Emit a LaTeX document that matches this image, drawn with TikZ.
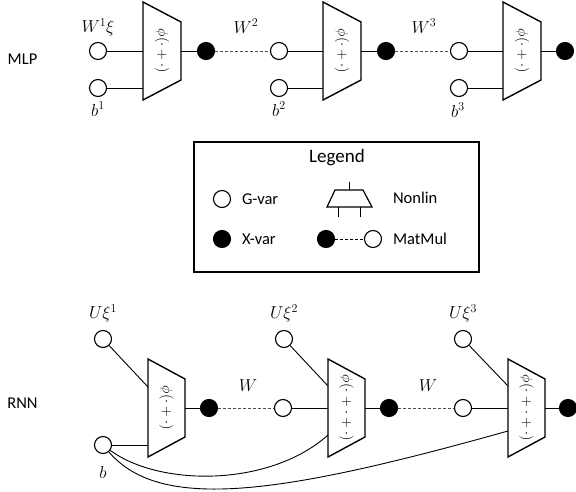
\documentclass[tikz,border=0pt]{standalone}
\usepackage{fontspec}
\setmainfont{Carlito}
\begin{document}
\begin{tikzpicture}[x=1pt,y=-1pt,
  gvar/.style={circle,draw,fill=white,line width=1.1pt,minimum size=17pt,inner sep=0pt},
  xvar/.style={gvar,fill=black},
  conn/.style={line width=0.9pt},
  mm/.style={line width=0.9pt,dash pattern=on 3pt off 2pt,black!70},
  trapbox/.style={line width=1.4pt,fill=white,line join=miter},
  lbl/.style={font=\fontsize{16.5}{18}\selectfont},
  mlbl/.style={font=\fontsize{17}{19}\selectfont,inner sep=0pt},
  fun/.style={rotate=-90,font=\fontsize{15}{17}\selectfont,inner sep=0pt}]
\useasboundingbox (0,0) rectangle (576,492);
\newcommand\mytrap[5]{%
  \draw[trapbox] (#2,#4-49) -- (#3,#4-29) -- (#3,#4+29) -- (#2,#4+49) -- cycle;
  \node[fun] (#1) at ({(#2+#3)/2},#4) {$#5$};
  \coordinate (#1-out) at (#3,#4);
}
% ---------------- MLP ----------------
\node[lbl] (mlp) at (22.5,59) {MLP};
\mytrap{mt1}{143}{181}{51}{\phi(\cdot+\cdot)}
\mytrap{mt2}{323}{361}{51}{\phi(\cdot+\cdot)}
\mytrap{mt3}{503}{541}{51}{\phi(\cdot+\cdot)}
\coordinate (mt1a) at (143,51); \coordinate (mt1b) at (143,88);
\coordinate (mt2a) at (323,51); \coordinate (mt2b) at (323,88);
\coordinate (mt3a) at (503,51); \coordinate (mt3b) at (503,88);

\node[gvar] (mw1) at (98,51) {};
\node[gvar] (mb1) at (98,88) {};
\node[xvar] (mx1) at (206,51) {};
\node[gvar] (mw2) at (279,51) {};
\node[gvar] (mb2) at (279,88) {};
\node[xvar] (mx2) at (386,51) {};
\node[gvar] (mw3) at (459,51) {};
\node[gvar] (mb3) at (459,88) {};
\node[xvar] (mx3) at (565,51) {};

\node[mlbl] (lw1) at (98,27) {$W^1\xi$};
\node[mlbl] (lb1) at (98,109) {$b^1$};
\node[mlbl] (lw2) at (246,26) {$W^2$};
\node[mlbl] (lb2) at (279,109) {$b^2$};
\node[mlbl] (lw3) at (424,26) {$W^3$};
\node[mlbl] (lb3) at (458,110) {$b^3$};

\draw[conn] (mw1) -- (mt1a);
\draw[conn] (mb1) -- (mt1b);
\draw[conn] (mt1-out) -- (mx1);
\draw[mm] (mx1) -- (mw2);
\draw[conn] (mw2) -- (mt2a);
\draw[conn] (mb2) -- (mt2b);
\draw[conn] (mt2-out) -- (mx2);
\draw[mm] (mx2) -- (mw3);
\draw[conn] (mw3) -- (mt3a);
\draw[conn] (mb3) -- (mt3b);
\draw[conn] (mt3-out) -- (mx3);

% ---------------- Legend ----------------
\node[draw,line width=1.2pt,minimum width=285pt,minimum height=130pt,inner sep=0pt] (legend) at (336.5,207) {};
\node[lbl,font=\fontsize{19}{21}\selectfont] (legtitle) at (337,158) {Legend};
\node[gvar] (lg) at (222,199) {};
\node[lbl,anchor=west] (lgt) at (238.5,199) {G-var};
\node[xvar] (lx) at (222,239) {};
\node[lbl,anchor=west] (lxt) at (238.5,239) {X-var};
\draw[line width=1.2pt] (335,190) -- (363,190) -- (372,207) -- (327,207) -- cycle;
\coordinate (ls0) at (349,182); \coordinate (ls0e) at (349,190);
\coordinate (ls1) at (338,207); \coordinate (ls1e) at (338,217);
\coordinate (ls2) at (360,207); \coordinate (ls2e) at (360,217);
\draw[conn] (ls0) -- (ls0e);
\draw[conn] (ls1) -- (ls1e);
\draw[conn] (ls2) -- (ls2e);
\node[lbl,anchor=west] (lnt) at (389.5,198) {Nonlin};
\node[xvar] (lmx) at (326,239) {};
\node[gvar] (lmg) at (373,239) {};
\draw[mm,black] (lmx) -- (lmg);
\node[lbl,anchor=west] (lmt) at (389.5,239) {MatMul};

% ---------------- RNN ----------------
\node[lbl] (rnn) at (22.5,403) {RNN};
\mytrap{rt1}{148}{185}{408}{\phi(\cdot+\cdot)}
\mytrap{rt2}{328}{365}{408}{\phi(\cdot+\cdot+\cdot)}
\mytrap{rt3}{508}{545}{408}{\phi(\cdot+\cdot+\cdot)}
\coordinate (rt1a) at (148,387); \coordinate (rt1b) at (148,445);
\coordinate (rt2a) at (328,386); \coordinate (rt2b) at (328,408); \coordinate (rt2c) at (328,435);
\coordinate (rt3a) at (508,386); \coordinate (rt3b) at (508,408); \coordinate (rt3c) at (508,431);

\node[gvar] (ru1) at (103,339) {};
\node[gvar] (rb) at (103,445) {};
\node[xvar] (rx1) at (209,408) {};
\node[gvar] (ru2) at (284,339) {};
\node[gvar] (rw2) at (283,408) {};
\node[xvar] (rx2) at (389,408) {};
\node[gvar] (ru3) at (463,339) {};
\node[gvar] (rw3) at (463,408) {};
\node[xvar] (rx3) at (568,408) {};

\node[mlbl] (lu1) at (103,313) {$U\xi^1$};
\node[mlbl] (lu2) at (284,313) {$U\xi^2$};
\node[mlbl] (lu3) at (463,313) {$U\xi^3$};
\node[mlbl] (lb) at (103,472) {$b$};
\node[mlbl] (lrw2) at (248,386) {$W$};
\node[mlbl] (lrw3) at (428,386) {$W$};

\draw[conn] (ru1) -- (rt1a);
\draw[conn] (rb) -- (rt1b);
\draw[conn] (rt1-out) -- (rx1);
\draw[mm] (rx1) -- (rw2);
\draw[conn] (ru2) -- (rt2a);
\draw[conn] (rw2) -- (rt2b);
\draw[conn] (rt2-out) -- (rx2);
\draw[mm] (rx2) -- (rw3);
\draw[conn] (ru3) -- (rt3a);
\draw[conn] (rw3) -- (rt3b);
\draw[conn] (rt3-out) -- (rx3);
\draw[conn] (rb) .. controls (160,487) and (270,487) .. (rt2c);
\draw[conn] (rb) .. controls (160,512) and (280,495) .. (rt3c);
\end{tikzpicture}
\end{document}
